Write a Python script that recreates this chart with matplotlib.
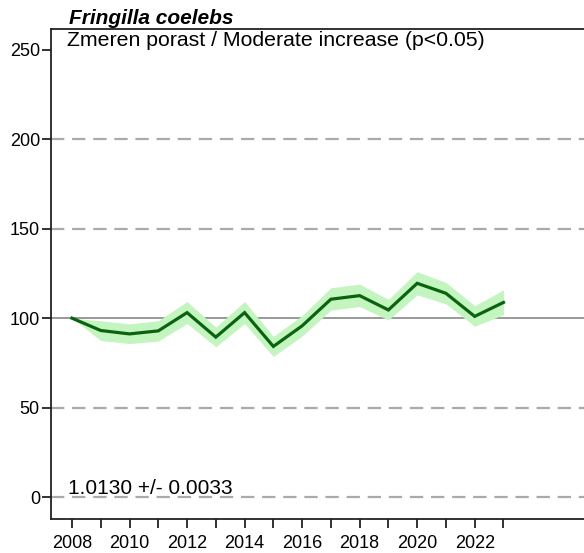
import matplotlib
matplotlib.use("Agg")
import matplotlib.pyplot as plt
from matplotlib.ticker import FixedLocator

plt.rcParams['font.family'] = ['Liberation Sans', 'DejaVu Sans']

years = [2008, 2009, 2010, 2011, 2012, 2013, 2014, 2015, 2016, 2017, 2018, 2019, 2020, 2021, 2022, 2023]
index = [100.0, 93.1, 91.2, 92.9, 103.1, 89.4, 103.1, 84.2, 95.7, 110.6, 112.6, 104.6, 119.5, 113.9, 101.0, 108.8]
lower = [100.0, 87.5, 85.8, 87.2, 97.0, 84.0, 97.0, 78.6, 90.0, 104.5, 106.5, 99.0, 113.0, 108.0, 95.5, 102.0]
upper = [100.0, 98.5, 96.8, 98.6, 109.3, 95.0, 109.3, 89.8, 101.5, 117.0, 119.0, 110.5, 126.0, 120.0, 107.0, 115.8]
yticks = [0, 50, 100, 150, 200, 250]
xlabels = [2008, 2010, 2012, 2014, 2016, 2018, 2020, 2022]
title = "Fringilla coelebs"
subtitle = "Zmeren porast / Moderate increase (p<0.05)"
slope_text = "1.0130 +/- 0.0033"

fig = plt.figure(figsize=(5.84, 5.53), dpi=100)
ax = fig.add_axes([51/584, 1-519/553, 1-51/584, (519-29)/553])

for v in [0, 50, 150, 200]:
    ax.axhline(v, color='#aaaaaa', lw=1.6, dashes=(6, 3.5), zorder=1)
ax.axhline(100, color='#999999', lw=1.4, zorder=1)

ax.fill_between(years, lower, upper, color='#c4f5c0', lw=0, zorder=2)
ax.plot(years, index, color='#0a640f', lw=2.3, zorder=3, solid_joinstyle='miter')

ax.set_xlim(2007.27, 2025.8)
ax.set_ylim(-12.3, 261.7)
ax.set_yticks(yticks)
ax.set_xticks(xlabels)
ax.xaxis.set_minor_locator(FixedLocator([y for y in years if y not in xlabels]))
ax.tick_params(axis='both', which='both', direction='out', length=6.5, width=1.3, labelsize=13, color='#222222')
ax.tick_params(axis='x', pad=5)
ax.tick_params(axis='y', pad=1.5)

for s in ['right']:
    ax.spines[s].set_visible(False)
for s in ['left', 'bottom', 'top']:
    ax.spines[s].set_linewidth(1.3)
    ax.spines[s].set_color('#222222')

fig.text(69/584, 1-23.5/553, title, fontsize=15, fontweight='bold', fontstyle='italic', ha='left', va='baseline')
fig.text(67/584, 1-31/553, subtitle, fontsize=15.3, ha='left', va='top')
fig.text(68/584, 1-493.5/553, slope_text, fontsize=15, ha='left', va='baseline')

fig.savefig('out.png', dpi=100)
